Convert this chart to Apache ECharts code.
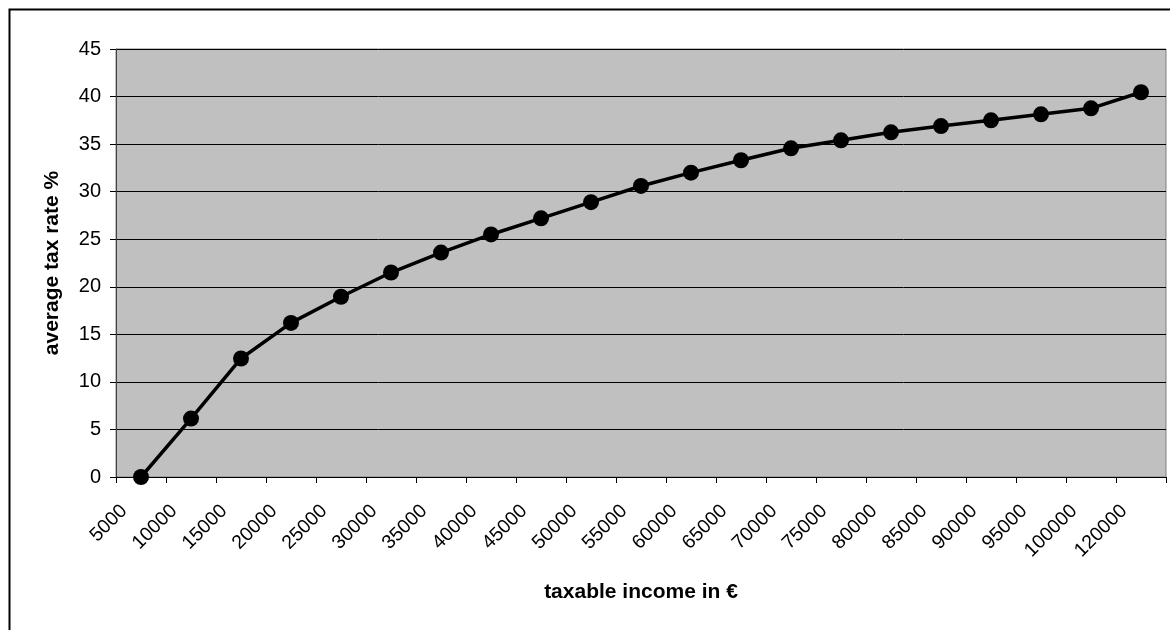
<!DOCTYPE html>
<html>
<head>
<meta charset="utf-8">
<script src="https://cdn.jsdelivr.net/npm/echarts@6/dist/echarts.min.js"></script>
<style>
html,body{margin:0;padding:0;background:#fff;}
#chart{width:1170px;height:630px;}
</style>
</head>
<body>
<div id="chart"></div>
<script>
const categories = ['5000','10000','15000','20000','25000','30000','35000','40000','45000','50000','55000','60000','65000','70000','75000','80000','85000','90000','95000','100000','120000'];
const taxRate = [0, 6.14, 12.46, 16.2, 18.95, 21.5, 23.6, 25.5, 27.2, 28.9, 30.6, 32.0, 33.3, 34.56, 35.4, 36.24, 36.9, 37.5, 38.13, 38.76, 40.45];
const yTicks = {min: 0, max: 45, interval: 5};
const xName = 'taxable income in €';
const yName = 'average tax rate %';

const FONT = '"Liberation Sans", Arial, sans-serif';
const chart = echarts.init(document.getElementById('chart'), null, {renderer: 'canvas'});
chart.setOption({
  animation: false,
  backgroundColor: '#ffffff',
  graphic: [{
    type: 'rect', silent: true, z: 100,
    shape: {x: 9.5, y: 9.5, width: 1300, height: 800},
    style: {fill: 'none', stroke: '#000', lineWidth: 2}
  }],
  grid: {
    left: 116, top: 49, right: 4, bottom: 153,
    show: true, backgroundColor: '#C0C0C0', borderColor: '#808080', borderWidth: 1
  },
  xAxis: {
    type: 'category',
    data: categories,
    boundaryGap: true,
    name: xName,
    nameLocation: 'middle',
    nameGap: 105,
    nameTextStyle: {fontFamily: FONT, fontSize: 21, fontWeight: 'bold', color: '#000'},
    axisLine: {show: true, lineStyle: {color: '#000', width: 1}},
    axisTick: {show: true, length: 6, alignWithLabel: false, lineStyle: {color: '#000'}},
    axisLabel: {interval: 0, rotate: 45, margin: 14, padding: [0, 24, 0, 0], fontFamily: FONT, fontSize: 19.5, color: '#000'},
    splitLine: {show: false}
  },
  yAxis: {
    type: 'value',
    min: yTicks.min, max: yTicks.max, interval: yTicks.interval,
    name: yName,
    nameLocation: 'middle',
    nameGap: 53,
    nameRotate: 90,
    nameTextStyle: {fontFamily: FONT, fontSize: 21, fontWeight: 'bold', color: '#000'},
    axisLine: {show: true, lineStyle: {color: '#404040', width: 1}},
    axisTick: {show: true, length: 6, lineStyle: {color: '#000'}},
    axisLabel: {margin: 15, fontFamily: FONT, fontSize: 20, color: '#000'},
    splitLine: {show: true, lineStyle: {color: '#000', width: 1}}
  },
  series: [{
    type: 'line',
    data: taxRate,
    symbol: 'circle',
    symbolSize: 16,
    lineStyle: {color: '#000', width: 3.5},
    itemStyle: {color: '#000'}
  }]
});
</script>
</body>
</html>
